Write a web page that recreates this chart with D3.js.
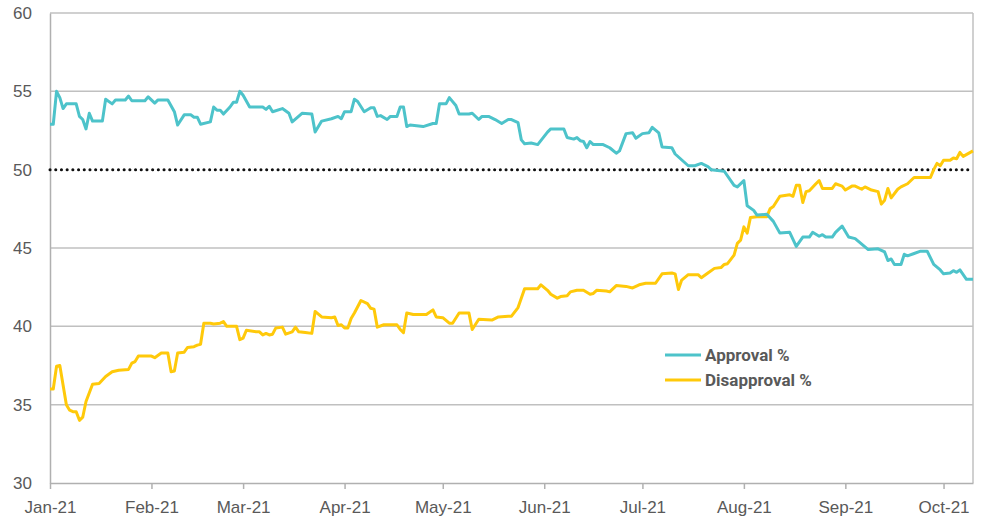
<!DOCTYPE html>
<html>
<head>
<meta charset="utf-8">
<script src="https://cdn.jsdelivr.net/npm/d3@7/dist/d3.min.js"></script>
<style>
  body { margin: 0; background: #fff; }
  svg { display: block; }
</style>
</head>
<body>
<svg></svg>
<script>
'use strict';
// Data: [date, percent]
var approval = [
  ['2021-01-01', 52.9], ['2021-01-02', 52.9], ['2021-01-03', 55.0], ['2021-01-04', 54.6],
  ['2021-01-05', 53.9], ['2021-01-06', 54.2], ['2021-01-09', 54.2], ['2021-01-10', 53.4],
  ['2021-01-11', 53.2], ['2021-01-12', 52.6], ['2021-01-13', 53.6], ['2021-01-14', 53.1],
  ['2021-01-17', 53.1], ['2021-01-18', 54.5], ['2021-01-20', 54.2], ['2021-01-21', 54.45],
  ['2021-01-24', 54.45], ['2021-01-25', 54.7], ['2021-01-26', 54.4], ['2021-01-30', 54.4],
  ['2021-01-31', 54.65], ['2021-02-02', 54.25], ['2021-02-03', 54.45], ['2021-02-06', 54.45],
  ['2021-02-08', 53.7], ['2021-02-09', 52.85], ['2021-02-11', 53.5], ['2021-02-13', 53.5],
  ['2021-02-14', 53.35], ['2021-02-15', 53.35], ['2021-02-16', 52.9], ['2021-02-19', 53.05],
  ['2021-02-20', 54.0], ['2021-02-21', 53.8], ['2021-02-22', 53.8], ['2021-02-23', 53.55],
  ['2021-02-25', 54.0], ['2021-02-26', 54.3], ['2021-02-27', 54.3], ['2021-02-28', 55.0],
  ['2021-03-01', 54.75], ['2021-03-03', 54.0], ['2021-03-07', 54.0], ['2021-03-08', 53.85],
  ['2021-03-09', 54.05], ['2021-03-10', 53.7], ['2021-03-13', 53.9], ['2021-03-15', 53.6],
  ['2021-03-16', 53.05], ['2021-03-19', 53.6], ['2021-03-22', 53.55], ['2021-03-23', 52.4],
  ['2021-03-25', 53.1], ['2021-03-28', 53.25], ['2021-03-30', 53.4], ['2021-03-31', 53.25],
  ['2021-04-01', 53.7], ['2021-04-03', 53.7], ['2021-04-04', 54.5], ['2021-04-05', 54.35],
  ['2021-04-07', 53.7], ['2021-04-09', 53.95], ['2021-04-10', 53.95], ['2021-04-11', 53.4],
  ['2021-04-12', 53.45], ['2021-04-14', 53.2], ['2021-04-15', 53.4], ['2021-04-17', 53.4],
  ['2021-04-18', 54.0], ['2021-04-19', 54.0], ['2021-04-20', 52.75], ['2021-04-21', 52.85],
  ['2021-04-25', 52.75], ['2021-04-28', 52.95], ['2021-04-29', 52.95], ['2021-04-30', 54.2],
  ['2021-05-02', 54.2], ['2021-05-03', 54.6], ['2021-05-05', 54.1], ['2021-05-06', 53.55],
  ['2021-05-09', 53.55], ['2021-05-10', 53.6], ['2021-05-12', 53.2], ['2021-05-13', 53.4],
  ['2021-05-15', 53.4], ['2021-05-17', 53.2], ['2021-05-19', 52.95], ['2021-05-21', 53.2],
  ['2021-05-22', 53.2], ['2021-05-24', 53.0], ['2021-05-25', 51.9], ['2021-05-26', 51.65],
  ['2021-05-28', 51.7], ['2021-05-30', 51.6], ['2021-06-02', 52.4], ['2021-06-03', 52.6],
  ['2021-06-07', 52.6], ['2021-06-08', 52.05], ['2021-06-10', 51.95], ['2021-06-11', 52.05],
  ['2021-06-12', 51.85], ['2021-06-13', 51.8], ['2021-06-14', 51.4], ['2021-06-15', 51.8],
  ['2021-06-16', 51.6], ['2021-06-19', 51.6], ['2021-06-21', 51.4], ['2021-06-23', 51.05],
  ['2021-06-24', 51.2], ['2021-06-26', 52.3], ['2021-06-28', 52.35], ['2021-06-29', 52.0],
  ['2021-07-01', 52.3], ['2021-07-03', 52.35], ['2021-07-04', 52.7], ['2021-07-06', 52.35],
  ['2021-07-07', 51.45], ['2021-07-10', 51.4], ['2021-07-11', 51.0], ['2021-07-15', 50.25],
  ['2021-07-17', 50.25], ['2021-07-19', 50.4], ['2021-07-21', 50.2], ['2021-07-22', 50.0],
  ['2021-07-26', 49.9], ['2021-07-29', 49.0], ['2021-07-30', 48.9], ['2021-08-01', 49.3],
  ['2021-08-02', 47.7], ['2021-08-04', 47.4], ['2021-08-05', 47.1], ['2021-08-08', 47.15],
  ['2021-08-10', 46.7], ['2021-08-12', 45.95], ['2021-08-15', 46.0], ['2021-08-17', 45.1],
  ['2021-08-19', 45.7], ['2021-08-21', 45.7], ['2021-08-22', 46.0], ['2021-08-24', 45.75],
  ['2021-08-25', 45.85], ['2021-08-26', 45.7], ['2021-08-28', 45.7], ['2021-08-29', 46.0],
  ['2021-08-31', 46.4], ['2021-09-02', 45.7], ['2021-09-04', 45.6], ['2021-09-06', 45.25],
  ['2021-09-08', 44.9], ['2021-09-11', 44.95], ['2021-09-13', 44.75], ['2021-09-14', 44.2],
  ['2021-09-15', 44.3], ['2021-09-16', 43.95], ['2021-09-18', 43.95], ['2021-09-19', 44.6],
  ['2021-09-20', 44.5], ['2021-09-22', 44.65], ['2021-09-24', 44.8], ['2021-09-26', 44.8],
  ['2021-09-28', 43.95], ['2021-09-30', 43.6], ['2021-10-01', 43.35], ['2021-10-03', 43.4],
  ['2021-10-04', 43.55], ['2021-10-05', 43.45], ['2021-10-06', 43.6], ['2021-10-08', 43.0],
  ['2021-10-10', 43.0]
];

var disapproval = [
  ['2021-01-01', 36.0], ['2021-01-02', 36.0], ['2021-01-03', 37.45], ['2021-01-04', 37.5],
  ['2021-01-06', 35.0], ['2021-01-07', 34.65], ['2021-01-08', 34.55], ['2021-01-09', 34.55],
  ['2021-01-10', 34.0], ['2021-01-11', 34.2], ['2021-01-12', 35.2], ['2021-01-14', 36.3],
  ['2021-01-16', 36.35], ['2021-01-18', 36.8], ['2021-01-20', 37.1], ['2021-01-22', 37.2],
  ['2021-01-25', 37.25], ['2021-01-26', 37.65], ['2021-01-27', 37.75], ['2021-01-28', 38.1],
  ['2021-02-01', 38.1], ['2021-02-02', 38.0], ['2021-02-04', 38.3], ['2021-02-06', 38.3],
  ['2021-02-07', 37.1], ['2021-02-08', 37.15], ['2021-02-09', 38.3], ['2021-02-11', 38.35],
  ['2021-02-12', 38.65], ['2021-02-14', 38.7], ['2021-02-15', 38.8], ['2021-02-16', 38.85],
  ['2021-02-17', 40.2], ['2021-02-19', 40.2], ['2021-02-20', 40.15], ['2021-02-22', 40.2],
  ['2021-02-23', 40.3], ['2021-02-24', 40.0], ['2021-02-27', 40.0], ['2021-02-28', 39.15],
  ['2021-03-01', 39.25], ['2021-03-02', 39.75], ['2021-03-05', 39.65], ['2021-03-06', 39.65],
  ['2021-03-07', 39.45], ['2021-03-08', 39.55], ['2021-03-09', 39.45], ['2021-03-10', 39.5],
  ['2021-03-11', 39.9], ['2021-03-13', 39.95], ['2021-03-14', 39.5], ['2021-03-16', 39.65],
  ['2021-03-17', 39.95], ['2021-03-18', 39.65], ['2021-03-20', 39.6], ['2021-03-22', 39.55],
  ['2021-03-23', 40.95], ['2021-03-25', 40.6], ['2021-03-28', 40.55], ['2021-03-29', 40.6],
  ['2021-03-30', 40.05], ['2021-03-31', 40.1], ['2021-04-01', 39.9], ['2021-04-02', 39.9],
  ['2021-04-03', 40.5], ['2021-04-04', 40.85], ['2021-04-06', 41.65], ['2021-04-08', 41.45],
  ['2021-04-09', 41.15], ['2021-04-10', 41.1], ['2021-04-11', 39.95], ['2021-04-13', 40.1],
  ['2021-04-17', 40.1], ['2021-04-18', 39.8], ['2021-04-19', 39.6], ['2021-04-20', 40.85],
  ['2021-04-22', 40.75], ['2021-04-26', 40.75], ['2021-04-28', 41.05], ['2021-04-29', 40.6],
  ['2021-05-01', 40.55], ['2021-05-03', 40.2], ['2021-05-04', 40.2], ['2021-05-06', 40.85],
  ['2021-05-09', 40.85], ['2021-05-10', 39.8], ['2021-05-12', 40.45], ['2021-05-16', 40.4],
  ['2021-05-18', 40.6], ['2021-05-21', 40.65], ['2021-05-22', 40.65], ['2021-05-24', 41.2],
  ['2021-05-26', 42.4], ['2021-05-30', 42.4], ['2021-05-31', 42.65], ['2021-06-02', 42.3],
  ['2021-06-03', 42.05], ['2021-06-05', 41.8], ['2021-06-06', 41.9], ['2021-06-08', 41.95],
  ['2021-06-09', 42.2], ['2021-06-11', 42.3], ['2021-06-13', 42.3], ['2021-06-15', 42.05],
  ['2021-06-16', 42.1], ['2021-06-17', 42.3], ['2021-06-20', 42.25], ['2021-06-21', 42.2],
  ['2021-06-23', 42.6], ['2021-06-26', 42.55], ['2021-06-28', 42.45], ['2021-06-30', 42.65],
  ['2021-07-02', 42.75], ['2021-07-05', 42.75], ['2021-07-07', 43.35], ['2021-07-10', 43.4],
  ['2021-07-11', 43.35], ['2021-07-12', 42.35], ['2021-07-13', 42.95], ['2021-07-15', 43.3],
  ['2021-07-18', 43.3], ['2021-07-19', 43.1], ['2021-07-21', 43.4], ['2021-07-23', 43.7],
  ['2021-07-25', 43.75], ['2021-07-26', 43.95], ['2021-07-27', 44.0], ['2021-07-29', 44.55],
  ['2021-07-30', 45.3], ['2021-07-31', 45.5], ['2021-08-01', 46.35], ['2021-08-02', 45.95],
  ['2021-08-03', 46.95], ['2021-08-05', 47.0], ['2021-08-08', 47.0], ['2021-08-09', 47.5],
  ['2021-08-10', 47.65], ['2021-08-12', 48.3], ['2021-08-15', 48.4], ['2021-08-16', 48.3],
  ['2021-08-17', 49.0], ['2021-08-18', 49.0], ['2021-08-19', 47.9], ['2021-08-20', 48.6],
  ['2021-08-21', 48.65], ['2021-08-23', 49.1], ['2021-08-24', 49.3], ['2021-08-25', 48.8],
  ['2021-08-28', 48.8], ['2021-08-29', 49.1], ['2021-08-31', 48.95], ['2021-09-01', 48.7],
  ['2021-09-03', 48.95], ['2021-09-04', 48.95], ['2021-09-06', 48.75], ['2021-09-07', 48.9],
  ['2021-09-09', 48.7], ['2021-09-11', 48.6], ['2021-09-12', 47.8], ['2021-09-13', 48.05],
  ['2021-09-14', 48.8], ['2021-09-15', 48.2], ['2021-09-17', 48.75], ['2021-09-18', 48.9],
  ['2021-09-20', 49.1], ['2021-09-22', 49.5], ['2021-09-27', 49.5], ['2021-09-28', 50.0],
  ['2021-09-29', 50.4], ['2021-09-30', 50.25], ['2021-10-01', 50.6], ['2021-10-03', 50.6],
  ['2021-10-04', 50.75], ['2021-10-05', 50.7], ['2021-10-06', 51.1], ['2021-10-07', 50.85],
  ['2021-10-10', 51.2]
];

var yTicks = [30, 35, 40, 45, 50, 55, 60];
var xTicks = ['2021-01-01', '2021-02-01', '2021-03-01', '2021-04-01', '2021-05-01',
  '2021-06-01', '2021-07-01', '2021-08-01', '2021-09-01', '2021-10-01'];
var threshold = 50;
var seriesNames = ['Approval %', 'Disapproval %'];
var seriesColors = ['#4dc3ca', '#ffc90a'];

var canvasWidth = 984;
var canvasHeight = 521;
var margin = { top: 13, right: 11, bottom: 38, left: 50 };
var width = canvasWidth - margin.left - margin.right;
var height = canvasHeight - margin.top - margin.bottom;

var parseDate = d3.timeParse('%Y-%m-%d');
var fmt = d3.timeFormat('%b-%y');

var svg = d3.select('svg')
  .attr('width', canvasWidth)
  .attr('height', canvasHeight)
  .style('font-family', '"Liberation Sans", Arial, sans-serif');

var g = svg.append('g')
  .attr('transform', 'translate(' + margin.left + ',' + margin.top + ')');

var xScale = d3.scaleTime()
  .domain([parseDate('2021-01-01'), parseDate('2021-10-10')])
  .range([0, width]);
var yScale = d3.scaleLinear().domain([30, 60]).range([height, 0]);

// grid lines (skip 50, it gets the dotted line)
g.selectAll('.grid')
  .data(yTicks.filter(function(d) { return d !== threshold && d !== 30; }))
  .enter().append('line')
  .attr('x1', 0).attr('x2', width)
  .attr('y1', function(d) { return yScale(d); })
  .attr('y2', function(d) { return yScale(d); })
  .attr('stroke', '#c0c0c0')
  .attr('stroke-width', 1.5);

// right border
g.append('line')
  .attr('x1', width).attr('x2', width)
  .attr('y1', 0).attr('y2', height)
  .attr('stroke', '#c0c0c0')
  .attr('stroke-width', 1.5);

// y axis
var yAxis = g.append('g')
  .call(d3.axisLeft(yScale).tickValues(yTicks).tickSize(0).tickPadding(18));
yAxis.select('.domain').attr('stroke', '#b0b0b0').attr('stroke-width', 1.5);
yAxis.selectAll('text')
  .attr('fill', '#595959')
  .style('font-size', '17px');

// x axis
var xAxis = g.append('g')
  .attr('transform', 'translate(0,' + height + ')')
  .call(d3.axisBottom(xScale)
    .tickValues(xTicks.map(parseDate))
    .tickFormat(fmt)
    .tickSizeInner(6).tickSizeOuter(0)
    .tickPadding(12));
xAxis.select('.domain').attr('stroke', '#b0b0b0').attr('stroke-width', 1.5);
xAxis.selectAll('.tick line').attr('stroke', '#b0b0b0').attr('stroke-width', 1.5);
xAxis.selectAll('text')
  .attr('fill', '#595959')
  .style('font-size', '17px');

// 50% dotted line
g.append('line')
  .attr('x1', 0).attr('x2', width)
  .attr('y1', yScale(threshold)).attr('y2', yScale(threshold))
  .attr('stroke', '#111')
  .attr('stroke-width', 3)
  .attr('stroke-linecap', 'round')
  .attr('stroke-dasharray', '0.1 5.6');

var line = d3.line()
  .x(function(d) { return xScale(parseDate(d[0])); })
  .y(function(d) { return yScale(d[1]); });

[disapproval, approval].forEach(function(series, i) {
  var idx = series === approval ? 0 : 1;
  g.append('path')
    .datum(series)
    .attr('fill', 'none')
    .attr('stroke', seriesColors[idx])
    .attr('stroke-width', 3)
    .attr('stroke-linejoin', 'round')
    .attr('d', line);
});

// legend
var legend = svg.append('g').attr('transform', 'translate(665,355)');
seriesNames.forEach(function(name, i) {
  legend.append('line')
    .attr('x1', 0).attr('x2', 36)
    .attr('y1', i * 25).attr('y2', i * 25)
    .attr('stroke', seriesColors[i])
    .attr('stroke-width', 3);
  legend.append('text')
    .attr('x', 40)
    .attr('y', i * 25)
    .attr('dy', '0.36em')
    .attr('fill', '#595959')
    .style('font-family', 'Roboto, sans-serif')
    .style('font-weight', 700)
    .style('font-size', '17px')
    .text(name);
});
</script>
</body>
</html>
